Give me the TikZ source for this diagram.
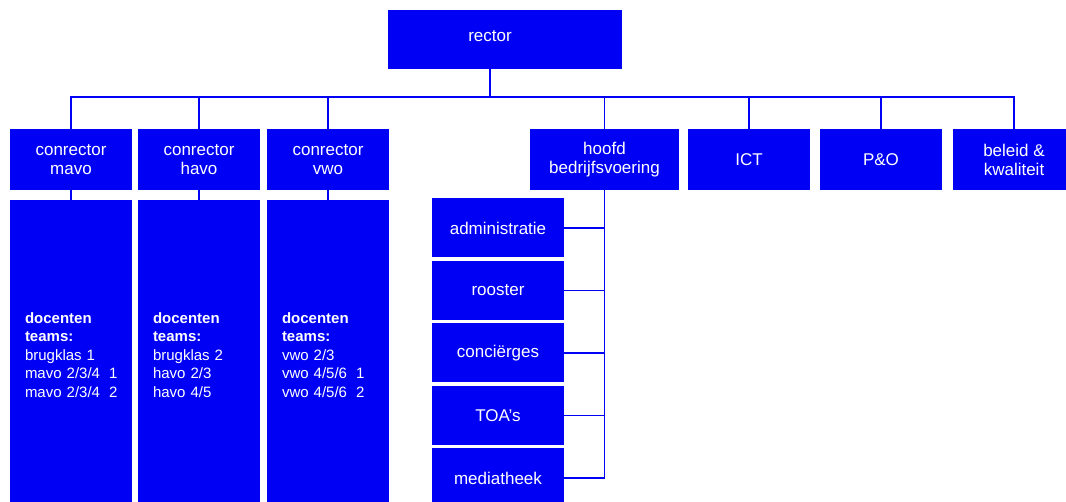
\documentclass[tikz,border=0pt]{standalone}
\usepackage{fontspec}
\setmainfont{Liberation Sans}
\definecolor{orgblue}{RGB}{0,0,245}
\tikzset{
  unit/.style={fill=orgblue,text=white,align=center,inner sep=2pt,
    font=\fontsize{17}{19}\selectfont},
  topbox/.style={unit,minimum width=122pt,minimum height=61pt},
  subbox/.style={unit,minimum width=132pt,minimum height=59pt},
  teambox/.style={fill=orgblue,text=white,align=left,inner xsep=15pt,
    text width=92pt,minimum height=310pt,
    font=\fontsize{15}{18.5}\selectfont},
  link/.style={orgblue,line width=1.3pt}
}
\newcommand\Team[2]{\mbox{#1\hspace{0.6em}#2}}
\begin{document}
\begin{tikzpicture}[x=1pt,y=-1pt]
\useasboundingbox
  (0,0) rectangle (1066,502);
\coordinate (bus) at (0,97);
\node[unit,minimum width=234pt,minimum height=59pt] (rector) at (505,39.5) {};
\node[text=white,font=\fontsize{17}{19}\selectfont] (rectorlbl) at (490,36) {rector};
\node[topbox] (cmavo) at (71,159.5) {conrector\\mavo};
\node[topbox] (chavo) at (199,159.5) {conrector\\havo};
\node[topbox] (cvwo) at (328,159.5) {conrector\\vwo};
\node[topbox,minimum width=149pt] (hoofd) at (604.5,159.5) {hoofd\\bedrijfsvoering};
\node[topbox] (ict) at (749,159.5) {ICT};
\node[topbox] (po) at (881,159.5) {P\&O};
\node[topbox] (beleid) at (1014,159.5) {beleid \&\\kwaliteit};
\node[teambox] (dmavo) at (71,355) {\textbf{docenten}\\\textbf{teams:}\\brugklas 1\\\Team{mavo 2/3/4}{1}\\\Team{mavo 2/3/4}{2}};
\node[teambox] (dhavo) at (199,355) {\textbf{docenten}\\\textbf{teams:}\\brugklas 2\\havo 2/3\\havo 4/5};
\node[teambox] (dvwo) at (328,355) {\textbf{docenten}\\\textbf{teams:}\\vwo 2/3\\\Team{vwo 4/5/6}{1}\\\Team{vwo 4/5/6}{2}};
\foreach \i/\name/\txt in {0/admin/administratie,1/rooster/rooster,
  2/concierges/conciërges,3/toa/TOA’s,4/media/mediatheek}
  \node[subbox] (\name) at (498,{228+62.5*\i}) {\txt};
\draw[link]
  (rectorlbl |- rector.south) -- (rectorlbl |- bus);
\draw[link]
  (cmavo.north) |- (beleid.north |- bus) -- (beleid.north);
\foreach \n in {chavo,cvwo,hoofd,ict,po}
  \draw[link] (\n.north) -- (\n.north |- bus);
\draw[link]
  (cmavo.south) -- (dmavo.north)
  (chavo.south) -- (dhavo.north)
  (cvwo.south) -- (dvwo.north);
\draw[link]
  (hoofd.south) -- (hoofd.south |- media.east);
\foreach \n in {admin,rooster,concierges,toa,media}
  \draw[link] (\n.east) -- (\n.east -| hoofd.south);
\end{tikzpicture}
\end{document}
